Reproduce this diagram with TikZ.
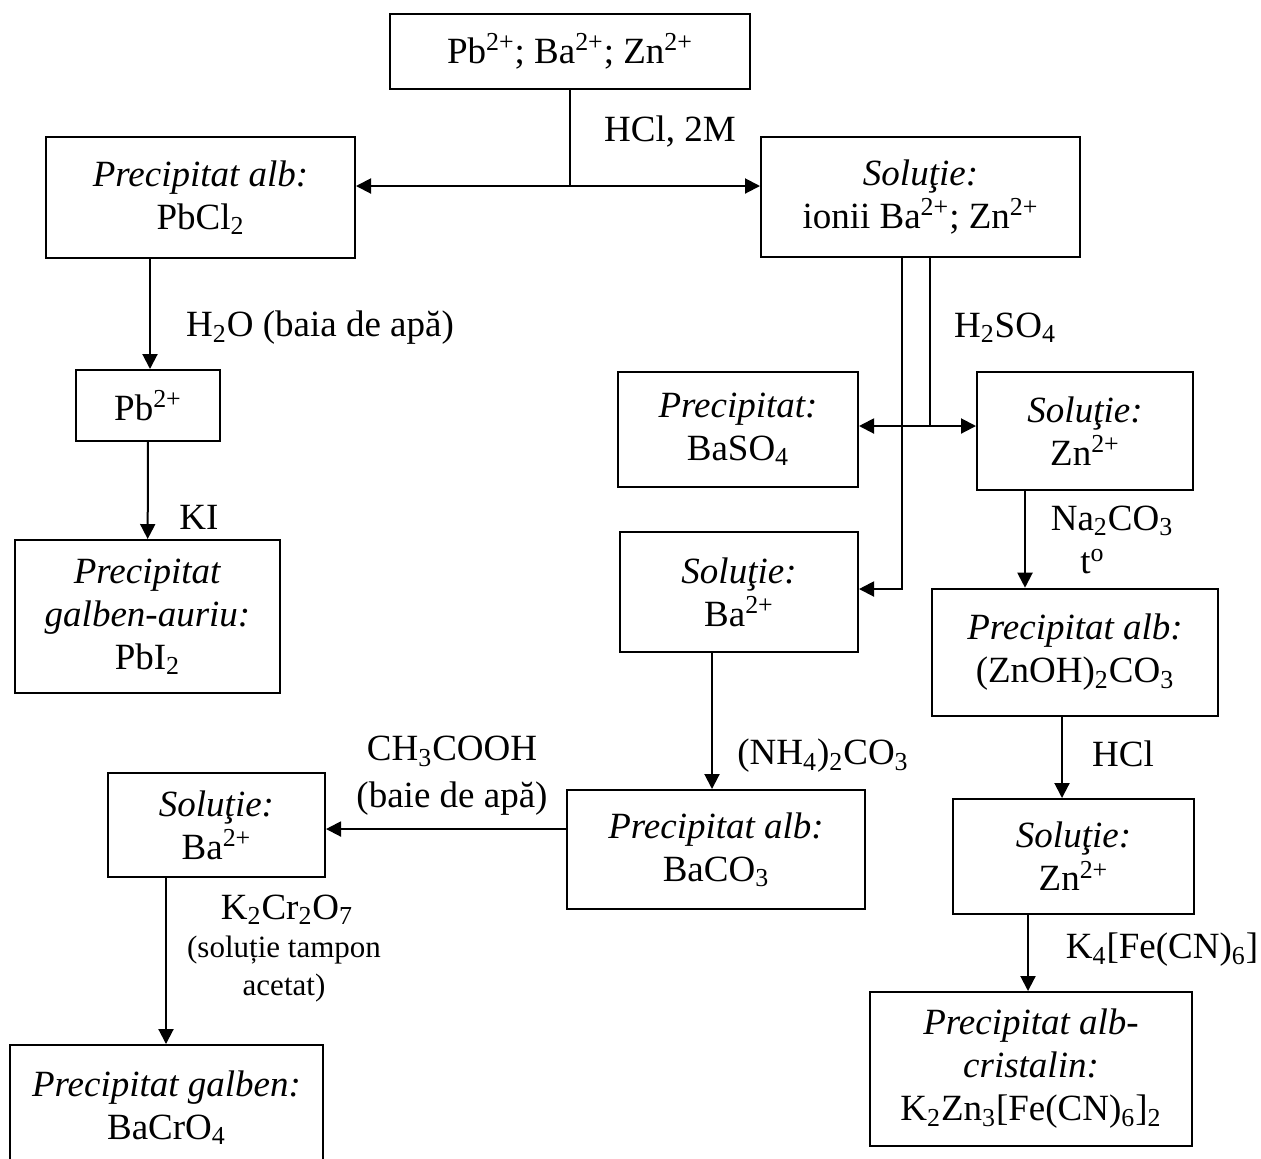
\documentclass[tikz,border=0pt]{standalone}
\usepackage{fontspec}
\setmainfont{Liberation Serif}
\usepackage{tikz}
\usetikzlibrary{arrows.meta, positioning, calc}

\begin{document}
\begin{tikzpicture}[x=0.5pt,y=-0.5pt,line width=1pt,
  font=\fontsize{18.5}{21.5}\selectfont,
  box/.style={draw,align=center,inner sep=2pt},
  lbl/.style={align=center,inner sep=0pt},
  arr/.style={-{Triangle[length=7.5pt,width=7.5pt]}}]
\useasboundingbox (0,0) rectangle (1261,1158);

% Starting mixture
\node[box,minimum width=180pt,minimum height=37.5pt] (ions) at (570,51.5) {Pb\textsuperscript{2+}; Ba\textsuperscript{2+}; Zn\textsuperscript{2+}};

% First split with HCl
\node[box,minimum width=154.5pt,minimum height=60.5pt] (pbcl) at (200.5,197.5) {\textit{Precipitat alb:}\\PbCl\textsubscript{2}};
\node[box,minimum width=159.5pt,minimum height=60pt] (ionii) at (920.5,197) {\textit{Soluţie:}\\ionii Ba\textsuperscript{2+}; Zn\textsuperscript{2+}};
\node[lbl] (hcl) at (670,132) {HCl, 2M};
\coordinate (j1) at (570,186);
\draw (ions.south -| j1) -- (j1);
\draw[arr] (j1) -- (j1 -| pbcl.east);
\draw[arr] (j1) -- (j1 -| ionii.west);

% Lead branch
\node[box,minimum width=72pt,minimum height=35.5pt] (pb) at (148,405.5) {Pb\textsuperscript{2+}};
\node[box,minimum width=132.5pt,minimum height=76.5pt] (pbi) at (147.5,616.5) {\textit{Precipitat}\\\textit{galben-auriu:}\\PbI\textsubscript{2}};
\node[lbl] (water) at (320,328) {H\textsubscript{2}O (baia de apă)};
\node[lbl] (ki) at (199,517) {KI};
\draw[arr] (pbcl.south -| 150,0) -- (pb.north -| 150,0);
\draw[arr] (pb) -- (pbi);

% Barium / zinc split with H2SO4
\node[box,minimum width=120pt,minimum height=57.5pt] (baso) at (738,429.5) {\textit{Precipitat:}\\BaSO\textsubscript{4}};
\node[box,minimum width=108pt,minimum height=59pt] (zn1) at (1085,431) {\textit{Soluţie:}\\Zn\textsuperscript{2+}};
\node[box,minimum width=119pt,minimum height=60pt] (soba) at (739,592) {\textit{Soluţie:}\\Ba\textsuperscript{2+}};
\node[lbl] (hso) at (1005,328) {H\textsubscript{2}SO\textsubscript{4}};
\coordinate (s1) at (930,426);
\coordinate (s2) at (902,589);
\draw (ionii.south -| s1) -- (s1);
\draw[arr] (s1) -- (s1 -| baso.east);
\draw[arr] (s1) -- (s1 -| zn1.west);
\draw[arr] (ionii.south -| s2) -- (s2) -- (s2 -| soba.east);

% Zinc branch
\node[box,line width=1.3pt,minimum width=143pt,minimum height=63.5pt] (znoh) at (1075,652.5) {\textit{Precipitat alb:}\\(ZnOH)\textsubscript{2}CO\textsubscript{3}};
\node[box,minimum width=120.5pt,minimum height=57.5pt] (zn2) at (1073.5,856.5) {\textit{Soluţie:}\\Zn\textsuperscript{2+}};
\node[box,minimum width=161pt,minimum height=77pt] (kfe) at (1031,1069) {\textit{Precipitat alb-}\\\textit{cristalin:}\\K\textsubscript{2}Zn\textsubscript{3}[Fe(CN)\textsubscript{6}]\textsubscript{2}};
\node[lbl,align=left] (naco) at (1112,540) {Na\textsubscript{2}CO\textsubscript{3}\\\hspace*{0.8em}t\textsuperscript{o}};
\node[lbl] (hcl2) at (1123,754) {HCl};
\node[lbl] (kfel) at (1162,950) {K\textsubscript{4}[Fe(CN)\textsubscript{6}]};
\draw[arr] (zn1.south -| 1025,0) -- (znoh.north -| 1025,0);
\draw[arr] (znoh.south -| 1062,0) -- (zn2.north -| 1062,0);
\draw[arr] (zn2.south -| 1028,0) -- (kfe.north -| 1028,0);

% Barium branch
\node[box,minimum width=149pt,minimum height=59.5pt] (baco) at (716,849.5) {\textit{Precipitat alb:}\\BaCO\textsubscript{3}};
\node[box,minimum width=108.5pt,minimum height=52pt] (soba2) at (216.5,825) {\textit{Soluţie:}\\Ba\textsuperscript{2+}};
\node[box,minimum width=156.5pt,minimum height=62.5pt] (bacro) at (166.5,1107.5) {\textit{Precipitat galben:}\\BaCrO\textsubscript{4}};
\node[lbl] (nhco) at (823,756) {(NH\textsubscript{4})\textsubscript{2}CO\textsubscript{3}};
\node[lbl,font=\fontsize{18.5}{23.5}\selectfont] (acid) at (452,776) {CH\textsubscript{3}COOH\\(baie de apă)};
\node[lbl] (kcr) at (287,910) {K\textsubscript{2}Cr\textsubscript{2}O\textsubscript{7}};
\node[lbl,font=\fontsize{15.5}{19}\selectfont] (tampon) at (284,969) {(soluție tampon\\acetat)};
\draw[arr] (soba.south -| 712,0) -- (baco.north -| 712,0);
\coordinate (b1) at (566,829);
\draw[arr] (b1) -- (b1 -| soba2.east);
\draw[arr] (soba2.south -| 166,0) -- (bacro.north -| 166,0);
\end{tikzpicture}
\end{document}
